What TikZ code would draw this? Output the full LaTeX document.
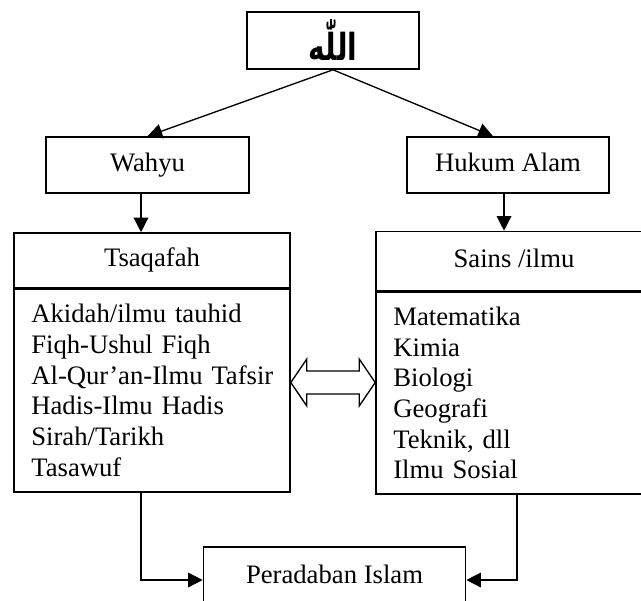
\documentclass[tikz,border=0pt]{standalone}
\usepackage{fontspec}
\usepackage{graphicx}
\setmainfont{Liberation Serif}
\newfontfamily\arabicfont[Script=Arabic]{DejaVu Sans}
\TeXXeTstate=1
\usetikzlibrary{arrows.meta,calc}

\begin{document}
\begin{tikzpicture}[x=0.75pt,y=-0.75pt,>={Triangle[length=11pt,width=11pt]},
	font=\fontsize{20}{23}\selectfont]

\def\u{0.75pt}
\tikzstyle{block} = [
	draw, line width=1.2pt, rectangle, inner sep=0pt,
	text height=13.5pt, text depth=4pt ];
\tikzstyle{list} = [
	draw, line width=1.2pt, rectangle, align=left,
	text width=181pt, inner xsep=13pt ];
\tikzstyle{link} = [line width=1pt];
\useasboundingbox (0,0) rectangle (641,600);

\node[block,minimum width=172*\u,minimum height=57*\u,text height=30pt,text depth=0pt] (allah) at (333,40.5)
	{\scalebox{0.75}[1]{\arabicfont\bfseries\fontsize{28}{28}\selectfont\beginR اللّٰه\endR}};

\node[block,minimum width=203*\u,minimum height=56*\u] (wahyu) at (147.5,165) {Wahyu};
\node[block,minimum width=202*\u,minimum height=56*\u] (hukum) at (508,165) {Hukum Alam};

\node[block,minimum width=276*\u,minimum height=55*\u] (tsaqafah) at (152,260.5) {Tsaqafah};
\node[list,minimum height=203*\u] (tsalist) at (152,390.5) {Akidah/ilmu tauhid\\
	Fiqh-Ushul Fiqh\\ \mbox{Al-Qur'an-Ilmu Tafsir}\\ Hadis-Ilmu Hadis\\ Sirah/Tarikh\\ Tasawuf};

\node[block,minimum width=276*\u,minimum height=59*\u] (sains) at (514,261) {Sains /ilmu};
\node[list,minimum height=202*\u] (sainslist) at (514,393) {Matematika\\ Kimia\\
	Biologi\\ Geografi\\ Teknik, dll\\ Ilmu Sosial};

\node[block,minimum width=262*\u,minimum height=66*\u,text depth=8pt] (peradaban) at (334.5,580) {Peradaban Islam};

% dari atas
\draw[link,->] (allah.south) -- (wahyu.north);
\draw[link,->] (allah.south) -- ([xshift=-15*\u]hukum.north);
\draw[link,->] ([xshift=-6.5*\u]wahyu.south) -- ([xshift=-6.5*\u]wahyu.south |- tsaqafah.north);
\draw[link,->] ([xshift=-4*\u]hukum.south) -- ([xshift=-4*\u]hukum.south |- sains.north);

% panah dua arah
\coordinate (dl) at ([yshift=8*\u]tsalist.east);
\coordinate (dr) at (sainslist.west |- dl);
\draw[link] (dl) -- ++(16,-23.5) -- ++(0,12) -- ($(dr)+(-16,-11.5)$) -- ++(0,-12) -- (dr)
	-- ++(-16,23.5) -- ++(0,-12) -- ($(dl)+(16,11.5)$) -- ++(0,12) -- cycle;

% ke bawah
\draw[link,->] ([xshift=-11*\u]tsalist.south) |- (peradaban.west);
\draw[link,->] ([xshift=3*\u]sainslist.south) |- (peradaban.east);

\end{tikzpicture}
\end{document}
